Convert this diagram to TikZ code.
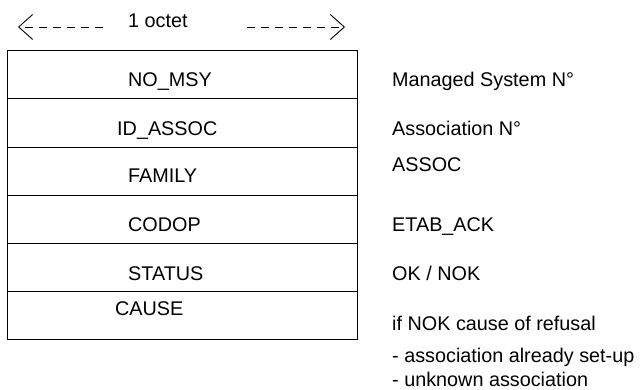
\documentclass[tikz,border=0pt]{standalone}
\usepackage{fontspec}
\setmainfont{Liberation Sans}
\usetikzlibrary{arrows.meta}
\begin{document}
\begin{tikzpicture}[x=1pt,y=-1pt,
  rowbox/.style={draw,line width=1.3pt,minimum width=350pt,inner sep=0pt,anchor=north west},
  txt/.style={inner sep=0pt,anchor=base west,font=\fontsize{19.8}{23}\selectfont},
  octarrow/.style={line width=0.9pt,dash pattern=on 8pt off 6pt,-{Straight Barb[length=14pt,width=25pt,line width=0.9pt]}}]
\useasboundingbox (0,0) rectangle (640,390);
% rows
\node[rowbox,minimum height=48pt] (r1) at (7,50) {};
\node[rowbox,minimum height=49pt] (r2) at (7,98) {};
\node[rowbox,minimum height=48pt] (r3) at (7,147) {};
\node[rowbox,minimum height=48pt] (r4) at (7,195) {};
\node[rowbox,minimum height=48pt] (r5) at (7,243) {};
\node[rowbox,minimum height=48pt] (r6) at (7,291) {};
% field names
\node[txt] (t1) at (128,87) {NO\_MSY};
\node[txt] (t2) at (117,136) {ID\_ASSOC};
\node[txt] (t3) at (128,183) {FAMILY};
\node[txt] (t4) at (128,232) {CODOP};
\node[txt] (t5) at (128,280) {STATUS};
\node[txt] (t6) at (115,315) {CAUSE};
% descriptions
\node[txt] (d1) at (392,87) {Managed System N°};
\node[txt] (d2) at (392,136) {Association N°};
\node[txt] (d3) at (392,172) {ASSOC};
\node[txt] (d4) at (392,232) {ETAB\_ACK};
\node[txt] (d5) at (392,280) {OK / NOK};
\node[txt] (d6) at (392,330) {if NOK cause of refusal};
\node[txt] (d7) at (392,362) {- association already set-up};
\node[txt] (d8) at (392,386) {- unknown association};
% octet
\node[txt] (oct) at (128,28) {1 octet};
\coordinate (la) at (103,27);
\coordinate (lt) at (18,27);
\coordinate (ra) at (247,27);
\coordinate (rt) at (345,27);
\draw[octarrow] (la) -- (lt);
\draw[octarrow] (ra) -- (rt);
\end{tikzpicture}
\end{document}
